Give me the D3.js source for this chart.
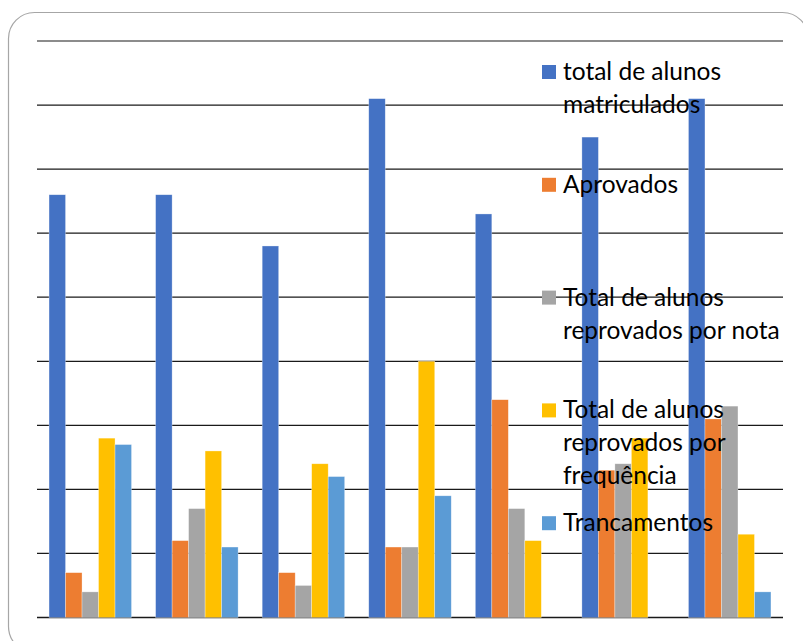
<!DOCTYPE html>
<html>
<head>
<meta charset="utf-8">
<script src="https://cdn.jsdelivr.net/npm/d3@7"></script>
<style>
  body { margin: 0; background: #fff; }
  svg { display: block; }
  .legend text { font-family: Lato, "Open Sans", sans-serif; font-size: 24.5px; fill: #000; }
</style>
</head>
<body>
<div id="chart"></div>
<script>
const width = 803;
const height = 641;

// groups have no labels in the original picture
const groups = ['1', '2', '3', '4', '5', '6', '7'];
const seriesNames = [
  'total de alunos matriculados',
  'Aprovados',
  'Total de alunos reprovados por nota',
  'Total de alunos reprovados por frequência',
  'Trancamentos',
];
const legendLines = [
  ['total de alunos', 'matriculados'],
  ['Aprovados'],
  ['Total de alunos', 'reprovados por nota'],
  ['Total de alunos', 'reprovados por', 'frequência'],
  ['Trancamentos'],
];
const colors = ['#4472C4', '#ED7D31', '#A5A5A5', '#FFC000', '#5B9BD5'];

const matriculados = [66, 66, 58, 81, 63, 75, 81];
const aprovados = [7, 12, 7, 11, 34, 23, 31];
const reprovNota = [4, 17, 5, 11, 17, 24, 33];
const reprovFreq = [28, 26, 24, 40, 12, 28, 13];
const trancamentos = [27, 11, 22, 19, 0, 0, 4];
const series = [matriculados, aprovados, reprovNota, reprovFreq, trancamentos];

const yTicks = [0, 10, 20, 30, 40, 50, 60, 70, 80, 90];

const plot = { left: 37, right: 783, top: 41, bottom: 617.5 };

const svg = d3.select('#chart')
  .append('svg')
  .attr('width', width)
  .attr('height', height);

// rounded frame
svg.append('rect')
  .attr('x', 8.5)
  .attr('y', 12.5)
  .attr('width', 800)
  .attr('height', 640)
  .attr('rx', 26)
  .attr('fill', '#fff')
  .attr('stroke', '#a6a6a6')
  .attr('stroke-width', 1.2);

const x0 = d3.scaleBand()
  .domain(groups)
  .range([plot.left, plot.right])
  .paddingInner(0.226)
  .paddingOuter(0.113);

const x1 = d3.scaleBand()
  .domain(d3.range(series.length))
  .range([0, x0.bandwidth()]);

const y = d3.scaleLinear()
  .domain([0, 90])
  .range([plot.bottom, plot.top]);

// gridlines
svg.append('g')
  .selectAll('line')
  .data(yTicks)
  .enter()
  .append('line')
  .attr('x1', plot.left)
  .attr('x2', plot.right)
  .attr('y1', d => y(d))
  .attr('y2', d => y(d))
  .attr('stroke', '#1a1a1a')
  .attr('stroke-width', d => (d === 0 ? 1.6 : 1.2));

// bars
svg.append('g')
  .selectAll('g')
  .data(groups)
  .enter()
  .append('g')
  .attr('transform', g => `translate(${x0(g)},0)`)
  .selectAll('rect')
  .data((g, gi) => series.map((s, si) => ({ si, value: s[gi] })))
  .enter()
  .append('rect')
  .attr('x', d => x1(d.si))
  .attr('width', x1.bandwidth())
  .attr('y', d => y(d.value))
  .attr('height', d => y(0) - y(d.value))
  .attr('fill', d => colors[d.si])
  .attr('stroke', '#fff')
  .attr('stroke-opacity', 0.5)
  .attr('stroke-width', d => (d.value > 0 ? 0.6 : 0));

// legend
const legend = svg.append('g').attr('class', 'legend');
const entry = legend.selectAll('g')
  .data(seriesNames)
  .enter()
  .append('g')
  .attr('transform', (d, i) => `translate(542, ${72 + i * 112.8})`);

entry.append('rect')
  .attr('x', 0)
  .attr('y', -7)
  .attr('width', 14)
  .attr('height', 14)
  .attr('fill', (d, i) => colors[i]);

entry.append('text')
  .attr('x', 21)
  .attr('y', 8)
  .selectAll('tspan')
  .data((d, i) => legendLines[i])
  .enter()
  .append('tspan')
  .attr('x', 21)
  .attr('dy', (d, j) => (j === 0 ? 0 : 33))
  .text(d => d);
</script>
</body>
</html>
